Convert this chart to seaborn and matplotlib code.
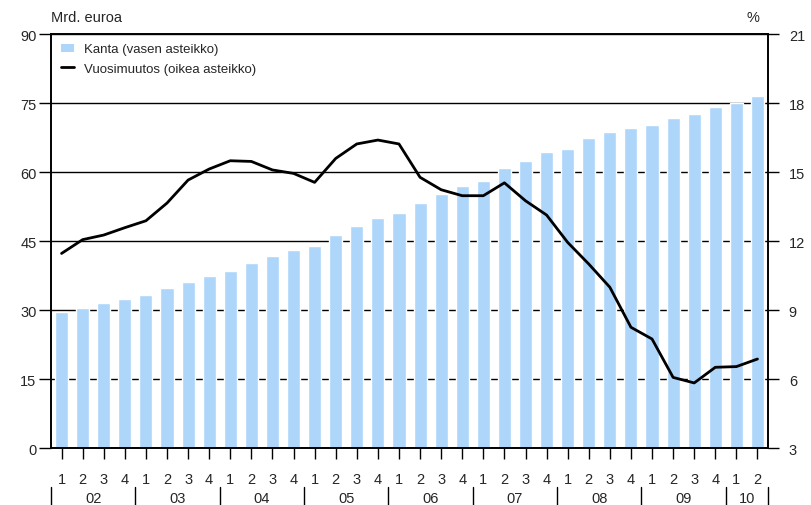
import numpy as np
import pandas as pd
import matplotlib
matplotlib.use("Agg")
import matplotlib.pyplot as plt
import seaborn as sns
from matplotlib.patches import Patch
from matplotlib.lines import Line2D

# Quarterly data 2002Q1 - 2010Q2
years = ["02", "03", "04", "05", "06", "07", "08", "09", "10"]
quarters = ["1", "2", "3", "4"] * 8 + ["1", "2"]
periods = [f"20{y}Q{q}" for y in years for q in "1234"][:34]

# Kanta, mrd. euroa (left axis)
stock = [29.5, 30.4, 31.5, 32.5, 33.3, 34.7, 36.0, 37.5,
         38.5, 40.2, 41.7, 43.0, 44.0, 46.2, 48.2, 50.0,
         51.0, 53.2, 55.2, 57.0, 58.0, 60.8, 62.5, 64.3,
         65.0, 67.5, 68.8, 69.6, 70.2, 71.7, 72.7, 74.1,
         74.9, 76.5]

# Vuosimuutos, % (right axis)
change = [11.46, 12.06, 12.26, 12.58, 12.88, 13.65, 14.65, 15.13,
          15.49, 15.46, 15.09, 14.94, 14.55, 15.59, 16.22, 16.39,
          16.22, 14.77, 14.23, 13.97, 13.97, 14.53, 13.75, 13.13,
          11.94, 11.00, 9.99, 8.25, 7.74, 6.07, 5.83, 6.51,
          6.54, 6.87]

df = pd.DataFrame({"period": periods, "stock": stock, "change": change})
df["pos"] = np.arange(len(df))

sns.set_theme(style="white")
plt.rcParams["font.family"] = ["Liberation Sans", "DejaVu Sans"]

bar_color = "#ADD6FA"

fig = plt.figure(figsize=(8.11, 5.06), dpi=100)
ax = fig.add_axes([0.0629, 0.1126, 0.8841, 0.8182])

sns.barplot(data=df, x="period", y="stock", order=periods, color=bar_color,
            saturation=1, width=0.62, ax=ax, zorder=2)
ax.set_xlim(-0.5, len(df) - 0.5)
ax.set_ylim(0, 90)
ax.set_yticks(np.arange(0, 91, 15))
ax.set_axisbelow(True)
ax.yaxis.grid(True, color="black", linewidth=1.0)
ax.xaxis.grid(False)
ax.set_xlabel("")
ax.set_ylabel("")
ax.set_xticks(df["pos"])
ax.set_xticklabels(quarters)
ax.tick_params(axis="x", length=8, width=1, color="black", pad=9,
               labelsize=10.5, direction="out", bottom=True)
ax.tick_params(axis="y", length=8.5, width=1, color="black", pad=2,
               labelsize=10.5, direction="out", left=True)

ax2 = ax.twinx()
sns.lineplot(data=df, x="pos", y="change", color="black", linewidth=2.0, ax=ax2)
ax2.set_ylim(3, 21)
ax2.set_yticks(np.arange(3, 22, 3))
ax2.grid(False)
ax2.set_ylabel("")
ax2.set_xlabel("")
ax2.set_xlim(-0.5, len(df) - 0.5)
ax2.tick_params(axis="y", length=8, width=1, color="black", pad=7,
                labelsize=10.5, direction="out", right=True)

for a in (ax, ax2):
    for s in a.spines.values():
        s.set_color("black")
        s.set_linewidth(1.2)

# year row under the quarter labels
trans = ax.get_xaxis_transform()
bounds = list(np.arange(-0.5, len(df), 4)) + [len(df) - 0.5]
for b in bounds:
    ax.plot([b, b], [-0.093, -0.14], transform=trans, color="black",
            linewidth=1, clip_on=False)
for i, y in enumerate(years):
    start = i * 4
    end = min(start + 4, len(df))
    ax.text((start + end - 1) / 2, -0.121, y, transform=trans, ha="center",
            va="center", fontsize=10.5)

fig.text(51 / 811, 1 - 18 / 506, "Mrd. euroa", ha="left", va="center", fontsize=10.5)
fig.text(759 / 811, 1 - 18 / 506, "%", ha="right", va="center", fontsize=10.5)

handles = [Patch(facecolor=bar_color, edgecolor="none"),
           Line2D([0], [0], color="black", linewidth=2.0)]
ax2.legend(handles, ["Kanta (vasen asteikko)", "Vuosimuutos (oikea asteikko)"],
           loc="upper left", bbox_to_anchor=(0.006, 0.99), borderaxespad=0,
           frameon=False, fontsize=9.5, handlelength=1.0, handleheight=0.6,
           handletextpad=0.8, labelspacing=0.55)

fig.savefig("out.png", dpi=100)
